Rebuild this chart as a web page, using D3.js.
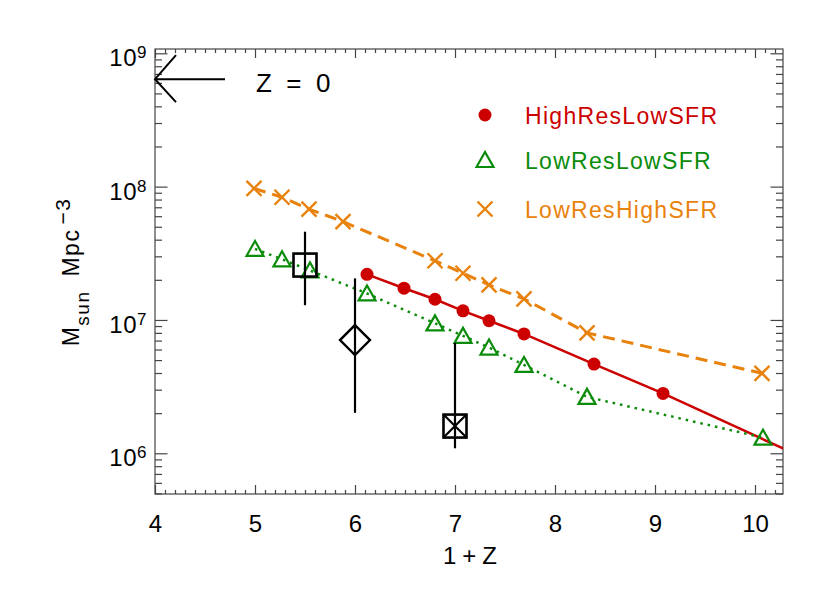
<!DOCTYPE html>
<html>
<head>
<meta charset="utf-8">
<script src="https://cdn.jsdelivr.net/npm/d3@7"></script>
<style>
  body { margin: 0; background: #fff; }
  svg text { font-family: "Liberation Sans", Arial, sans-serif; }
</style>
</head>
<body>
<div class="chart"></div>
<script>
var outerWidth = 830,
    outerHeight = 593,
    margin = {left: 155, top: 49, right: 47, bottom: 99},
    width = outerWidth - margin.left - margin.right,
    height = outerHeight - margin.top - margin.bottom;

// --- data ---
var xTicks = [4, 5, 6, 7, 8, 9, 10],
    yTicks = [1e6, 1e7, 1e8, 1e9],
    yTickExp = ["6", "7", "8", "9"];

var highResZ   = [6.12, 6.49, 6.80, 7.08, 7.34, 7.69, 8.39, 9.08, 11.0],
    highResRho = [2.2e7, 1.73e7, 1.43e7, 1.17e7, 9.86e6, 7.85e6, 4.67e6, 2.81e6, 6.15e5];

var lowLowZ   = [5.00, 5.27, 5.55, 6.12, 6.80, 7.08, 7.34, 7.69, 8.32, 10.08],
    lowLowRho = [3.41e7, 2.85e7, 2.35e7, 1.58e7, 9.43e6, 7.6e6, 6.21e6, 4.6e6, 2.65e6, 1.31e6];

var lowHighZ   = [4.99, 5.27, 5.54, 5.88, 6.80, 7.08, 7.34, 7.69, 8.32, 10.07],
    lowHighRho = [9.7e7, 8.32e7, 6.79e7, 5.46e7, 2.78e7, 2.24e7, 1.83e7, 1.44e7, 8.0e6, 3.98e6];

// observational points with error bars
var obsZ    = [5.5, 6.0, 7.0],
    obsRho  = [2.58e7, 7.07e6, 1.6e6],
    obsLo   = [1.29e7, 2.01e6, 1.09e6],
    obsHi   = [4.59e7, 2.05e7, 6.74e6],
    obsSym  = ["square", "diamond", "crossSquare"];

var seriesNames = ["HighResLowSFR", "LowResLowSFR", "LowResHighSFR"],
    seriesColors = ["#cc0000", "#0a8c0a", "#e8820c"];

var xScale = d3.scaleLinear().domain([4, 10.28]).range([0, width]),
    yScale = d3.scaleLog().domain([4.95e5, 1.077e9]).range([height, 0]);

var svg = d3.select(".chart").append("svg")
    .attr("width", outerWidth)
    .attr("height", outerHeight)
  .append("g")
    .attr("transform", "translate(" + margin.left + "," + margin.top + ")");

svg.append("defs").append("clipPath").attr("id", "clip")
  .append("rect").attr("width", width).attr("height", height);

// --- axes (IDL style, ticks pointing in) ---
var axisColor = "#444";
var minorX = d3.range(40, 103).map(function(i) { return i / 10; })
    .filter(function(v) { return v % 1 !== 0; });
var minorY = [];
[5, 6, 7, 8].forEach(function(e) {
  for (var k = 2; k <= 9; k++) {
    var v = k * Math.pow(10, e);
    if (v >= yScale.domain()[0] && v <= yScale.domain()[1]) minorY.push(v);
  }
});

function styleAxis(g) {
  g.select(".domain").remove();
  g.selectAll("line").attr("stroke", axisColor).attr("stroke-width", 1.2);
}

svg.append("g").attr("transform", "translate(0," + height + ")")
  .call(d3.axisBottom(xScale).tickValues(xTicks).tickSize(-9).tickPadding(21)
        .tickFormat(d3.format("d")))
  .call(styleAxis)
  .selectAll("text").attr("font-size", 24).attr("fill", "#000");
svg.append("g").attr("transform", "translate(0," + height + ")")
  .call(d3.axisBottom(xScale).tickValues(minorX).tickSize(-4).tickFormat(""))
  .call(styleAxis);
svg.append("g")
  .call(d3.axisTop(xScale).tickValues(xTicks).tickSize(-9).tickFormat(""))
  .call(styleAxis);
svg.append("g")
  .call(d3.axisTop(xScale).tickValues(minorX).tickSize(-4).tickFormat(""))
  .call(styleAxis);

svg.append("g")
  .call(d3.axisLeft(yScale).tickValues(yTicks).tickSize(-12.5).tickFormat(""))
  .call(styleAxis);
svg.append("g")
  .call(d3.axisLeft(yScale).tickValues(minorY).tickSize(-7).tickFormat(""))
  .call(styleAxis);
svg.append("g").attr("transform", "translate(" + width + ",0)")
  .call(d3.axisRight(yScale).tickValues(yTicks).tickSize(-12.5).tickFormat(""))
  .call(styleAxis);
svg.append("g").attr("transform", "translate(" + width + ",0)")
  .call(d3.axisRight(yScale).tickValues(minorY).tickSize(-7).tickFormat(""))
  .call(styleAxis);

svg.append("rect")
  .attr("width", width).attr("height", height)
  .attr("fill", "none").attr("stroke", axisColor).attr("stroke-width", 1.2);

// y tick labels 10^n
yTicks.forEach(function(v, i) {
  var t = svg.append("text")
    .attr("x", -8).attr("y", yScale(v) + 13)
    .attr("text-anchor", "end").attr("font-size", 24).attr("letter-spacing", 0.5);
  t.append("tspan").text("10");
  t.append("tspan").attr("font-size", 17).attr("dy", -8).text(yTickExp[i]);
});

// axis titles
svg.append("text")
  .attr("x", xScale(7.18)).attr("y", height + 70)
  .attr("text-anchor", "middle").attr("font-size", 24)
  .attr("letter-spacing", 6)
  .text("1+Z");

var yt = svg.append("text")
  .attr("transform", "translate(" + (79 - margin.left) + "," + (272 - margin.top) + ") rotate(-90)")
  .attr("text-anchor", "middle").attr("font-size", 23).attr("letter-spacing", 1.5);
yt.append("tspan").text("M");
yt.append("tspan").attr("font-size", 19).attr("dy", 10).text("sun");
yt.append("tspan").attr("dy", -10).attr("dx", 14).text("Mpc");
yt.append("tspan").attr("font-size", 21).attr("dy", -9).attr("dx", 4).text("\u22123");

// --- series lines ---
var plot = svg.append("g").attr("clip-path", "url(#clip)");

function lineOf(xs, ys) {
  return d3.line().x(function(d, i) { return xScale(xs[i]); })
                  .y(function(d, i) { return yScale(ys[i]); })(xs);
}

plot.append("path").attr("d", lineOf(highResZ, highResRho))
  .attr("fill", "none").attr("stroke", seriesColors[0]).attr("stroke-width", 2.5);
plot.append("path").attr("d", lineOf(lowLowZ, lowLowRho))
  .attr("fill", "none").attr("stroke", seriesColors[1]).attr("stroke-width", 2.5)
  .attr("stroke-dasharray", "2.5,5");
plot.append("path").attr("d", lineOf(lowHighZ, lowHighRho))
  .attr("fill", "none").attr("stroke", seriesColors[2]).attr("stroke-width", 3)
  .attr("stroke-dasharray", "12,7");

// --- symbols ---
function triangle(g, cx, cy, color) {
  g.append("path")
    .attr("d", "M" + (cx - 8.5) + "," + (cy + 7) + "L" + cx + "," + (cy - 8) + "L" + (cx + 8.5) + "," + (cy + 7) + "Z")
    .attr("fill", "none").attr("stroke", color).attr("stroke-width", 2.2)
    .attr("stroke-linejoin", "miter");
}
function cross(g, cx, cy, color) {
  g.append("path")
    .attr("d", "M" + (cx - 7.5) + "," + (cy - 7.5) + "L" + (cx + 7.5) + "," + (cy + 7.5) +
               "M" + (cx - 7.5) + "," + (cy + 7.5) + "L" + (cx + 7.5) + "," + (cy - 7.5))
    .attr("stroke", color).attr("stroke-width", 2.4);
}

plot.selectAll(".hr").data(highResZ).enter().append("circle")
  .attr("class", "hr")
  .attr("cx", function(d) { return xScale(d); })
  .attr("cy", function(d, i) { return yScale(highResRho[i]); })
  .attr("r", 6.5).attr("fill", seriesColors[0]);

lowLowZ.forEach(function(d, i) { triangle(plot, xScale(d), yScale(lowLowRho[i]), seriesColors[1]); });
lowHighZ.forEach(function(d, i) { cross(plot, xScale(d), yScale(lowHighRho[i]), seriesColors[2]); });

// observations
obsZ.forEach(function(z, i) {
  var cx = xScale(z), cy = yScale(obsRho[i]);
  plot.append("line")
    .attr("x1", cx).attr("x2", cx)
    .attr("y1", yScale(obsHi[i])).attr("y2", yScale(obsLo[i]))
    .attr("stroke", "#000").attr("stroke-width", 2.2);
  if (obsSym[i] === "diamond") {
    plot.append("path")
      .attr("d", "M" + cx + "," + (cy - 15) + "L" + (cx + 15) + "," + cy + "L" + cx + "," + (cy + 15) + "L" + (cx - 15) + "," + cy + "Z")
      .attr("fill", "#fff").attr("stroke", "#000").attr("stroke-width", 2.4);
    plot.append("line").attr("x1", cx).attr("x2", cx).attr("y1", cy - 15).attr("y2", cy + 15)
      .attr("stroke", "#000").attr("stroke-width", 2.2);
  } else {
    plot.append("rect")
      .attr("x", cx - 11.5).attr("y", cy - 11.5).attr("width", 23).attr("height", 23)
      .attr("fill", "none").attr("stroke", "#000").attr("stroke-width", 2.6);
    if (obsSym[i] === "crossSquare") {
      plot.append("path")
        .attr("d", "M" + (cx - 11.5) + "," + (cy - 11.5) + "L" + (cx + 11.5) + "," + (cy + 11.5) +
                   "M" + (cx - 11.5) + "," + (cy + 11.5) + "L" + (cx + 11.5) + "," + (cy - 11.5))
        .attr("stroke", "#000").attr("stroke-width", 2.2);
    }
  }
});

// Z = 0 arrow
var arrowY = yScale(6.4e8), arrowX0 = xScale(4.0), arrowX1 = xScale(4.7);
svg.append("path")
  .attr("d", "M" + arrowX1 + "," + arrowY + "L" + arrowX0 + "," + arrowY +
             "M" + (arrowX0 + 21) + "," + (arrowY - 24) + "L" + arrowX0 + "," + arrowY +
             "L" + (arrowX0 + 21) + "," + (arrowY + 23))
  .attr("fill", "none").attr("stroke", "#000").attr("stroke-width", 2);
svg.append("text")
  .attr("x", xScale(5.01)).attr("y", arrowY + 13)
  .attr("font-size", 26).attr("xml:space", "preserve")
  .text("Z  =  0");

// legend
var legend = svg.append("g").attr("transform", "translate(" + (485 - margin.left) + "," + (115 - margin.top) + ")");
seriesNames.forEach(function(name, i) {
  var gy = [0, 45, 94][i];
  if (i === 0) legend.append("circle").attr("cx", 0).attr("cy", gy).attr("r", 6.5).attr("fill", seriesColors[0]);
  if (i === 1) triangle(legend, 0, gy, seriesColors[1]);
  if (i === 2) cross(legend, 0, gy, seriesColors[2]);
  legend.append("text")
    .attr("x", 40).attr("y", gy + 8.5)
    .attr("font-size", 23).attr("letter-spacing", 1.3)
    .attr("fill", seriesColors[i])
    .text(name);
});
</script>
</body>
</html>
